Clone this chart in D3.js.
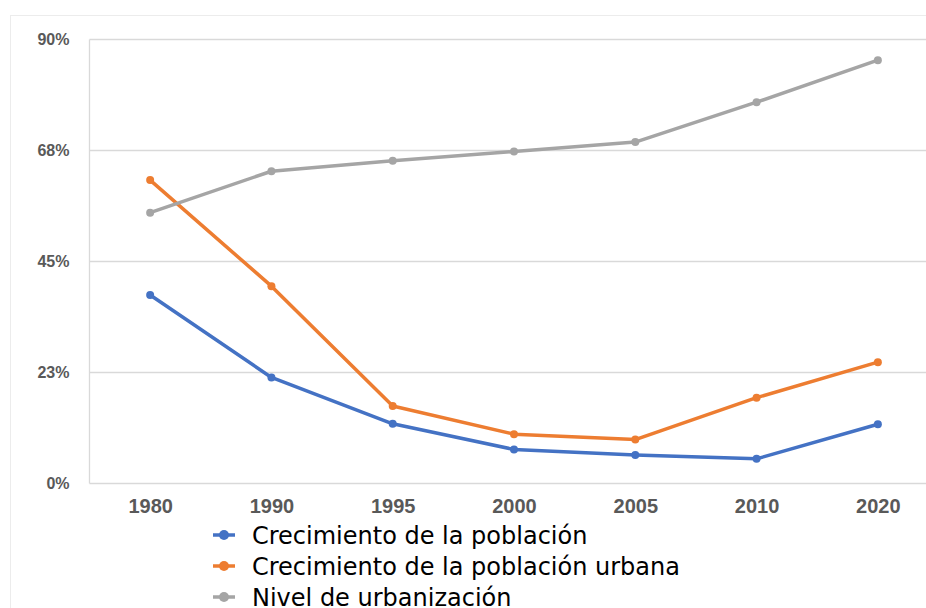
<!DOCTYPE html>
<html>
<head>
<meta charset="utf-8">
<script src="https://cdn.jsdelivr.net/npm/d3@7"></script>
<style>
  body { margin: 0; background: #fff; }
  svg { display: block; }
  .tick text { fill: #595959; font-family: "Liberation Sans", Arial, sans-serif; font-weight: bold; }
  .legend text { font-family: "DejaVu Sans", sans-serif; fill: #000; }
</style>
</head>
<body>
<svg id="chart"></svg>
<script>
"use strict";

// data
var years = ["1980", "1990", "1995", "2000", "2005", "2010", "2020"];
var crecimientoPoblacion = [0.382, 0.215, 0.121, 0.069, 0.058, 0.050, 0.120];
var crecimientoUrbana = [0.615, 0.400, 0.157, 0.100, 0.089, 0.174, 0.246];
var nivelUrbanizacion = [0.549, 0.633, 0.654, 0.673, 0.692, 0.773, 0.858];
var yTicks = [0, 0.225, 0.45, 0.675, 0.9];
var yTickLabels = ["0%", "23%", "45%", "68%", "90%"];
var seriesNames = ["Crecimiento de la población", "Crecimiento de la población urbana", "Nivel de urbanización"];

var series = [
  {name: seriesNames[0], values: crecimientoPoblacion, color: "#4472C4"},
  {name: seriesNames[1], values: crecimientoUrbana, color: "#ED7D31"},
  {name: seriesNames[2], values: nivelUrbanizacion, color: "#A5A5A5"}
];

var config = {
  width: 926,
  height: 608,
  plot: {left: 89.5, top: 39.5, right: 938.5, bottom: 483.5}
};

var svg = d3.select("#chart")
  .attr("width", config.width)
  .attr("height", config.height);

// outer chart border
svg.append("rect")
  .attr("x", 10.5).attr("y", 15.5)
  .attr("width", 940).attr("height", 620)
  .attr("fill", "none")
  .attr("stroke", "#ececec");

var xScale = d3.scalePoint()
  .domain(years)
  .range([config.plot.left, config.plot.right])
  .padding(0.5);

var yScale = d3.scaleLinear()
  .domain([0, 0.9])
  .range([config.plot.bottom, config.plot.top]);

// gridlines
svg.append("g")
  .selectAll("line")
  .data(yTicks)
  .enter().append("line")
  .attr("x1", config.plot.left)
  .attr("x2", config.plot.right)
  .attr("y1", function(d) {return yScale(d)})
  .attr("y2", function(d) {return yScale(d)})
  .attr("stroke", "#d9d9d9")
  .attr("stroke-width", 1.3);

// left border of plot
svg.append("line")
  .attr("x1", config.plot.left).attr("x2", config.plot.left)
  .attr("y1", config.plot.top).attr("y2", config.plot.bottom)
  .attr("stroke", "#d9d9d9")
  .attr("stroke-width", 1.3);

// y axis
var yAxis = d3.axisLeft(yScale)
  .tickValues(yTicks)
  .tickSize(0)
  .tickPadding(20)
  .tickFormat(function(d, i) {return yTickLabels[i]});

svg.append("g")
  .attr("transform", "translate(" + config.plot.left + ",0)")
  .call(yAxis)
  .call(function(g) {g.select(".domain").remove()})
  .selectAll("text")
  .style("font-size", "16px");

// x axis
var xAxis = d3.axisBottom(xScale)
  .tickSize(0)
  .tickPadding(15);

svg.append("g")
  .attr("transform", "translate(0," + config.plot.bottom + ")")
  .call(xAxis)
  .call(function(g) {g.select(".domain").remove()})
  .selectAll("text")
  .style("font-size", "20px");

// lines
var line = d3.line()
  .x(function(d, i) {return xScale(years[i])})
  .y(function(d) {return yScale(d)});

var seriesG = svg.append("g")
  .selectAll("g")
  .data(series)
  .enter().append("g");

seriesG.append("path")
  .attr("d", function(d) {return line(d.values)})
  .attr("fill", "none")
  .attr("stroke", function(d) {return d.color})
  .attr("stroke-width", 3.5)
  .attr("stroke-linejoin", "round");

seriesG.selectAll("circle")
  .data(function(d) {return d.values.map(function(v, i) {return {v: v, i: i, color: d.color}})})
  .enter().append("circle")
  .attr("cx", function(d) {return xScale(years[d.i])})
  .attr("cy", function(d) {return yScale(d.v)})
  .attr("r", 4)
  .attr("fill", function(d) {return d.color});

// legend
var legend = svg.append("g")
  .attr("class", "legend")
  .attr("transform", "translate(213,535)");

var legendItem = legend.selectAll("g")
  .data(series)
  .enter().append("g")
  .attr("transform", function(d, i) {return "translate(0," + (i * 31) + ")"});

legendItem.append("line")
  .attr("x1", 0).attr("x2", 22)
  .attr("stroke", function(d) {return d.color})
  .attr("stroke-width", 3.5);

legendItem.append("circle")
  .attr("cx", 11)
  .attr("r", 5)
  .attr("fill", function(d) {return d.color});

legendItem.append("text")
  .attr("x", 39)
  .attr("dy", "0.36em")
  .style("font-size", "24px")
  .text(function(d) {return d.name});
</script>
</body>
</html>
